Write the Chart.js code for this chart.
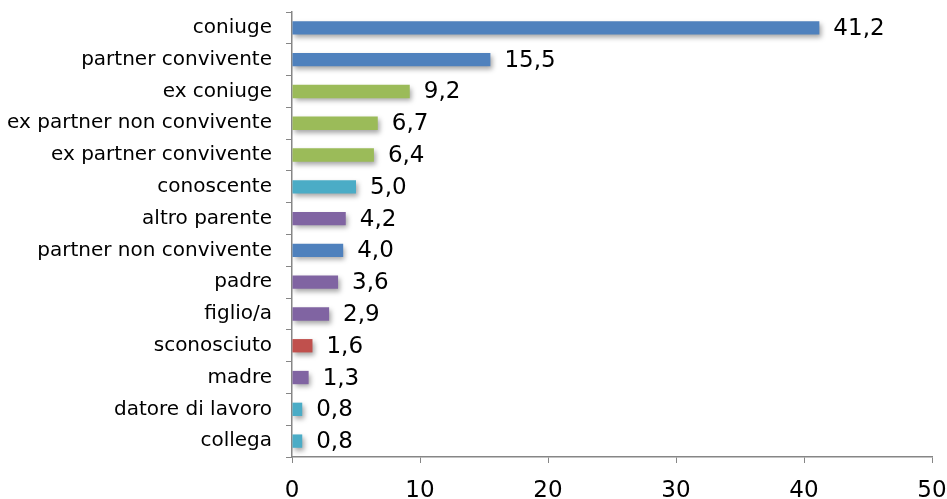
<!DOCTYPE html>
<html>
<head>
<meta charset="utf-8">
<script src="https://cdn.jsdelivr.net/npm/chart.js@4/dist/chart.umd.min.js"></script>
<style>
  html, body { margin: 0; padding: 0; background: #fff; }
  .wrap { width: 947px; height: 499px; position: relative; }
</style>
</head>
<body>
<div class="wrap"><canvas id="grafico"></canvas></div>
<script>
const categorie = ['coniuge', 'partner convivente', 'ex coniuge', 'ex partner non convivente',
  'ex partner convivente', 'conoscente', 'altro parente', 'partner non convivente',
  'padre', 'figlio/a', 'sconosciuto', 'madre', 'datore di lavoro', 'collega'];
const valori = [41.2, 15.5, 9.2, 6.7, 6.4, 5.0, 4.2, 4.0, 3.6, 2.9, 1.6, 1.3, 0.8, 0.8];
const colori = ['#4F81BD', '#4F81BD', '#9BBB59', '#9BBB59', '#9BBB59', '#4BACC6', '#8064A2',
  '#4F81BD', '#8064A2', '#8064A2', '#C0504D', '#8064A2', '#4BACC6', '#4BACC6'];
const tickX = [0, 10, 20, 30, 40, 50];

const ombra = {
  id: 'ombra',
  beforeDatasetDraw(chart) {
    const ctx = chart.ctx;
    ctx.save();
    ctx.shadowColor = 'rgba(0,0,0,0.35)';
    ctx.shadowBlur = 5;
    ctx.shadowOffsetX = 2;
    ctx.shadowOffsetY = 3;
  },
  afterDatasetDraw(chart) {
    chart.ctx.restore();
  }
};

const etichette = {
  id: 'etichette',
  afterDatasetsDraw(chart) {
    const ctx = chart.ctx;
    const meta = chart.getDatasetMeta(0);
    ctx.save();
    ctx.fillStyle = '#000';
    ctx.font = '23px "DejaVu Sans", sans-serif';
    ctx.textAlign = 'left';
    ctx.textBaseline = 'middle';
    meta.data.forEach((bar, i) => {
      ctx.fillText(valori[i].toFixed(1).replace('.', ','), bar.x + 14, bar.y + 1);
    });
    ctx.restore();
  }
};

new Chart(document.getElementById('grafico'), {
  type: 'bar',
  data: {
    labels: categorie,
    datasets: [{
      data: valori,
      backgroundColor: colori,
      barPercentage: 0.42,
      categoryPercentage: 1
    }]
  },
  options: {
    indexAxis: 'y',
    responsive: true,
    maintainAspectRatio: false,
    animation: false,
    layout: { padding: { top: 12, right: 15, left: 0, bottom: 0 } },
    plugins: { legend: { display: false }, tooltip: { enabled: false } },
    scales: {
      x: {
        min: 0, max: 50,
        afterBuildTicks(scale) { scale.ticks = tickX.map(v => ({ value: v })); },
        afterFit(scale) { scale.height = 42; scale.paddingLeft = 0; scale.paddingRight = 0; },
        grid: { drawOnChartArea: false, color: '#868686', tickLength: 6, lineWidth: 1 },
        border: { color: '#868686', width: 1.5 },
        ticks: { color: '#000', font: { family: '"DejaVu Sans", sans-serif', size: 23 }, padding: 14 }
      },
      y: {
        afterFit(scale) { scale.width = 292; scale.paddingTop = 0; scale.paddingBottom = 0; },
        grid: { drawOnChartArea: false, color: '#868686', tickLength: 6, lineWidth: 1 },
        border: { color: '#868686', width: 1.5 },
        ticks: { color: '#000', font: { family: '"DejaVu Sans", sans-serif', size: 20 }, padding: 14, autoSkip: false }
      }
    }
  },
  plugins: [ombra, etichette]
});
</script>
</body>
</html>
